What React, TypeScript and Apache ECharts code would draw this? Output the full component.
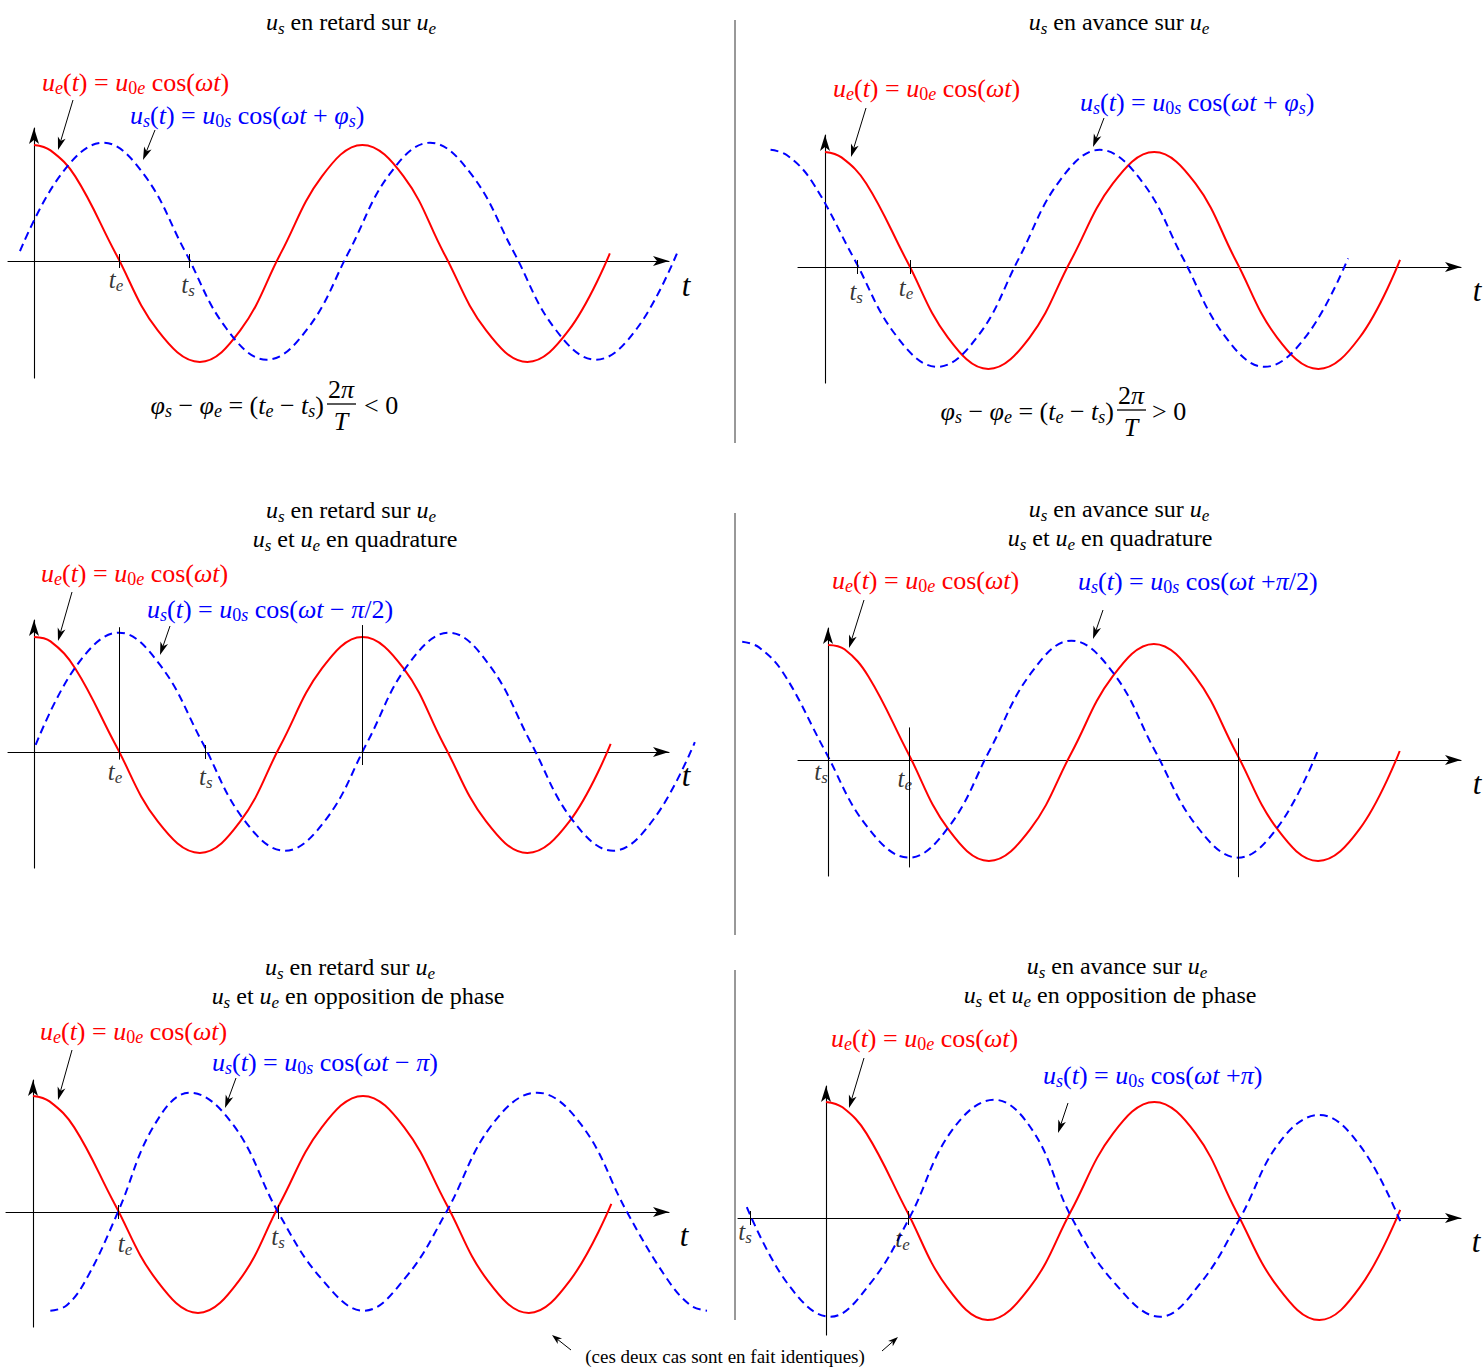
import { useEffect, useRef } from "react";
import * as echarts from "echarts";

// Units: t in quarter periods (T = 4); u in amplitudes (the t axis is u = 0)
// points read about every eighth of a period (plus one near each flat start/end)
const p1RedT = [0, 0.2, 0.5, 0.99, 1.5, 2.01, 2.5, 2.99, 3.49, 3.98, 4.48, 4.97, 5.48, 5.98, 6.48, 6.98];
const p1RedU = [1.07, 1.02, 0.78, 0.07, -0.64, -0.93, -0.64, 0.07, 0.78, 1.07, 0.78, 0.07, -0.64, -0.93, -0.64, 0.07];
const p1BlueT = [-0.17, 0.33, 0.84, 1.33, 1.83, 2.33, 2.82, 3.32, 3.82, 4.31, 4.8, 5.3, 5.81, 6.31, 6.81, 7.31, 7.81];
const p1BlueU = [0.09, 0.8, 1.09, 0.8, 0.09, -0.62, -0.91, -0.62, 0.09, 0.8, 1.09, 0.8, 0.09, -0.62, -0.91, -0.62, 0.1];

const p2RedT = [0, 0.2, 0.5, 0.99, 1.49, 1.98, 2.48, 2.98, 3.49, 3.99, 4.49, 4.98, 5.48, 5.98, 6.48, 6.97];
const p2RedU = [1.06, 1.01, 0.77, 0.06, -0.65, -0.94, -0.65, 0.06, 0.77, 1.06, 0.77, 0.06, -0.65, -0.94, -0.65, 0.065];
const p2BlueT = [-0.66, -0.46, -0.16, 0.35, 0.86, 1.36, 1.86, 2.35, 2.84, 3.33, 3.84, 4.34, 4.84, 5.33, 5.84, 6.34];
const p2BlueU = [1.08, 1.03, 0.79, 0.08, -0.63, -0.92, -0.63, 0.08, 0.79, 1.08, 0.79, 0.08, -0.63, -0.92, -0.63, 0.08];

const p3RedT = [0, 0.2, 0.5, 0.99, 1.5, 2.01, 2.5, 2.99, 3.49, 3.98, 4.48, 4.97, 5.48, 5.98, 6.49, 6.99];
const p3RedU = [1.06, 1.02, 0.77, 0.065, -0.64, -0.93, -0.64, 0.065, 0.77, 1.06, 0.77, 0.065, -0.64, -0.93, -0.64, 0.074];
const p3BlueT = [0.02, 0.52, 1.03, 1.53, 2.04, 2.54, 3.04, 3.54, 4.04, 4.53, 5.03, 5.52, 6.02, 6.52, 7.02, 7.51, 8.01];
const p3BlueU = [0.065, 0.8, 1.1, 0.8, 0.09, -0.62, -0.91, -0.62, 0.09, 0.8, 1.1, 0.8, 0.09, -0.62, -0.91, -0.62, 0.09];

const p4RedT = [0, 0.2, 0.49, 0.97, 1.46, 1.95, 2.45, 2.95, 3.45, 3.95, 4.45, 4.95, 5.45, 5.94, 6.44, 6.93];
const p4RedU = [1.06, 1.02, 0.77, 0.065, -0.64, -0.93, -0.64, 0.065, 0.77, 1.07, 0.77, 0.065, -0.64, -0.93, -0.64, 0.083];
const p4BlueT = [-1.04, -0.84, -0.54, -0.04, 0.47, 0.98, 1.47, 1.96, 2.46, 2.95, 3.46, 3.96, 4.47, 4.97, 5.46, 5.94];
const p4BlueU = [1.09, 1.04, 0.8, 0.09, -0.61, -0.9, -0.61, 0.09, 0.8, 1.1, 0.8, 0.09, -0.61, -0.9, -0.61, 0.09];

const p5RedT = [0, 0.2, 0.5, 0.99, 1.5, 2.0, 2.5, 2.99, 3.5, 4.0, 4.5, 5.01, 5.51, 6.01, 6.51, 7.01];
const p5RedU = [1.07, 1.02, 0.78, 0.074, -0.63, -0.93, -0.63, 0.074, 0.78, 1.07, 0.78, 0.074, -0.63, -0.93, -0.63, 0.074];
const p5BlueT = [0.21, 0.41, 0.66, 1.03, 1.47, 1.9, 2.43, 2.97, 3.49, 4.01, 4.51, 5.01, 5.56, 6.11, 6.65, 7.2, 7.68, 7.97, 8.17];
const p5BlueU = [-0.91, -0.86, -0.6, 0, 0.8, 1.1, 0.8, 0, -0.61, -0.91, -0.61, 0, 0.8, 1.1, 0.8, 0, -0.61, -0.86, -0.91];

const p6RedT = [0, 0.2, 0.49, 0.98, 1.47, 1.96, 2.47, 2.97, 3.48, 3.98, 4.48, 4.97, 5.48, 5.98, 6.47, 6.96];
const p6RedU = [1.07, 1.02, 0.78, 0.065, -0.64, -0.94, -0.64, 0.065, 0.78, 1.07, 0.78, 0.065, -0.64, -0.94, -0.64, 0.074];
const p6BlueT = [-0.96, -0.46, 0.05, 0.53, 1.01, 1.52, 2.04, 2.51, 2.98, 3.51, 4.05, 4.53, 5.02, 5.5, 5.98, 6.48, 6.98];
const p6BlueU = [0.1, -0.61, -0.91, -0.61, 0, 0.8, 1.09, 0.8, 0, -0.61, -0.91, -0.61, 0, 0.7, 0.95, 0.66, -0.065];

// instants marked on the t axis
const p1TickT = [1.03, 1.88];
const p1TickName = ["e", "s"];
const p2TickT = [0.39, 1.03];
const p2TickName = ["s", "e"];
const p3TickT = [1.03, 2.07];
const p3TickName = ["e", "s"];
const p4TickT = [0, 0.98];
const p4TickName = ["s", "e"];
const p5TickT = [1.03, 2.97];
const p5TickName = ["e", "s"];
const p6TickT = [-0.92, 1.0];
const p6TickName = ["s", "e"];

// vertical guide lines: t, top u, bottom u
const p3GuideT = [1.03, 3.98];
const p3GuideTop = [1.15, 1.17];
const p3GuideBottom = [-0.07, -0.12];
const p4GuideT = [0.98, 4.97];
const p4GuideTop = [0.3, 0.2];
const p4GuideBottom = [-0.99, -1.08];

const NONE: number[] = [];
const DATA = [
  { redT: p1RedT, redU: p1RedU, blueT: p1BlueT, blueU: p1BlueU, tickT: p1TickT, tickName: p1TickName, gT: NONE, gTop: NONE, gBot: NONE },
  { redT: p2RedT, redU: p2RedU, blueT: p2BlueT, blueU: p2BlueU, tickT: p2TickT, tickName: p2TickName, gT: NONE, gTop: NONE, gBot: NONE },
  { redT: p3RedT, redU: p3RedU, blueT: p3BlueT, blueU: p3BlueU, tickT: p3TickT, tickName: p3TickName, gT: p3GuideT, gTop: p3GuideTop, gBot: p3GuideBottom },
  { redT: p4RedT, redU: p4RedU, blueT: p4BlueT, blueU: p4BlueU, tickT: p4TickT, tickName: p4TickName, gT: p4GuideT, gTop: p4GuideTop, gBot: p4GuideBottom },
  { redT: p5RedT, redU: p5RedU, blueT: p5BlueT, blueU: p5BlueU, tickT: p5TickT, tickName: p5TickName, gT: NONE, gTop: NONE, gBot: NONE },
  { redT: p6RedT, redU: p6RedU, blueT: p6BlueT, blueU: p6BlueU, tickT: p6TickT, tickName: p6TickName, gT: NONE, gTop: NONE, gBot: NONE },
];

// ---------- layout (pixels) ----------
const PX_T = 82.5; // px per t unit
const PX_U = 108.5; // px per u unit
const AH = 16; // arrow head length
const AW = 7.5; // arrow symbol width parameter
const TICK_PX = 7;
const SMOOTH = 0.4;

const PANELS = [
  { x0: 8, tipX: 677, ox: 34, ay: 261, yb: 378, tipY: 120, L: 0, R: 726 },
  { x0: 798, tipX: 1469, ox: 825, ay: 267, yb: 383, tipY: 127, L: 737, R: 1484 },
  { x0: 8, tipX: 677, ox: 34, ay: 752, yb: 868, tipY: 612, L: 0, R: 726 },
  { x0: 798, tipX: 1469, ox: 828, ay: 760, yb: 876, tipY: 620, L: 737, R: 1484 },
  { x0: 6, tipX: 677, ox: 33, ay: 1212, yb: 1327, tipY: 1072, L: 0, R: 726 },
  { x0: 738, tipX: 1469, ox: 826, ay: 1218, yb: 1335, tipY: 1078, L: 737, R: 1484 },
];

const TICK_LABEL_OFFSETS = [
  [[-3, 18], [-1, 23]],
  [[-1, 24], [-4, 20]],
  [[-4, 19], [1, 24]],
  [[-7, 11], [-4, 18]],
  [[7, 31], [0, 24]],
  [[-5, 13], [-6, 20]],
];

const TITLE_POS = [[351, 22], [1119, 22], [351, 510], [1119, 509], [350, 967], [1117, 966]];
const SUBTITLE_POS = [null, null, [355, 539], [1110, 538], [358, 996], [1110, 995]];
const RED_LABEL_POS = [[42, 82], [833, 88], [41, 573], [832, 580], [40, 1031], [831, 1038]];
const BLUE_LABEL_POS = [[130, 115], [1080, 102], [147, 609], [1078, 581], [212, 1062], [1043, 1075]];
const RED_ARROWS = [[73, 100, 58, 150], [866, 108, 851, 157], [72, 592, 58, 641], [864, 600, 849, 648], [72, 1050, 58, 1100], [864, 1058, 849, 1108]];
const BLUE_ARROWS = [[155, 130, 143, 160], [1104, 118, 1093, 147], [170, 626, 160, 655], [1103, 610, 1093, 639], [236, 1078, 225, 1108], [1068, 1103, 1058, 1133]];
const T_LABEL_POS = [[686, 285], [1477, 290], [686, 775], [1477, 783], [684, 1235], [1476, 1241]];
const SEPARATORS = [[735, 20, 443], [735, 513, 935], [735, 970, 1320]];

// ---------- text ----------
const FONT = "'Liberation Serif', 'Times New Roman', serif";
const NB = "\u00a0";
const MINUS = "\u2212";
const I = (s: string) => `{i|${s}}`;
const R = (s: string) => `{r|${s}}`;
const S = (s: string) => `{s|${s}}`;
const S0 = (s: string) => `{s0|${s}}`;

const retard = I("u") + S("s") + R(`${NB}en retard sur${NB}`) + I("u") + S("e");
const avance = I("u") + S("s") + R(`${NB}en avance sur${NB}`) + I("u") + S("e");
const quadrature = I("u") + S("s") + R(`${NB}et${NB}`) + I("u") + S("e") + R(`${NB}en quadrature`);
const opposition = I("u") + S("s") + R(`${NB}et${NB}`) + I("u") + S("e") + R(`${NB}en opposition de phase`);
const TITLES = [retard, avance, retard, avance, retard, avance];
const SUBTITLES = [null, null, quadrature, quadrature, opposition, opposition];

const redLabel = I("u") + S("e") + R("(") + I("t") + R(`)${NB}=${NB}`) + I("u") + S0("0") + S("e") + R(`${NB}cos(`) + I("ωt") + R(")");
const blueLabel = (phase: string) =>
  I("u") + S("s") + R("(") + I("t") + R(`)${NB}=${NB}`) + I("u") + S0("0") + S("s") + R(`${NB}cos(`) + I("ωt") + phase + R(")");
const BLUE_LABELS = [
  blueLabel(R(`${NB}+${NB}`) + I("φ") + S("s")),
  blueLabel(R(`${NB}+${NB}`) + I("φ") + S("s")),
  blueLabel(R(`${NB}${MINUS}${NB}`) + I("π") + R("/2")),
  blueLabel(R(`${NB}+`) + I("π") + R("/2")),
  blueLabel(R(`${NB}${MINUS}${NB}`) + I("π")),
  blueLabel(R(`${NB}+`) + I("π")),
];
const formulaLeft =
  I("φ") + S("s") + R(`${NB}${MINUS}${NB}`) + I("φ") + S("e") + R(`${NB}=${NB}(`) + I("t") + S("e") + R(`${NB}${MINUS}${NB}`) + I("t") + S("s") + R(")");

const MAIN = 26;
const SUBSZ = 18;
const TITLE_SIZE = 24;
const TITLE_SUB = 17;

function richFor(color: string, size = MAIN, sub = SUBSZ) {
  const lh = Math.round(size * 0.92);
  const sl = Math.round(sub * 0.6);
  const drop = Math.round(size * 0.36);
  const base = { fontFamily: FONT, fill: color, color };
  return {
    r: { ...base, fontSize: size, lineHeight: lh },
    i: { ...base, fontSize: size, lineHeight: lh, fontStyle: "italic" },
    s: { ...base, fontSize: sub, lineHeight: sl, fontStyle: "italic", verticalAlign: "top", padding: [drop, 0, 0, 0] },
    s0: { ...base, fontSize: sub, lineHeight: sl, verticalAlign: "top", padding: [drop, 0, 0, 0] },
  };
}

function txt(x: number, y: number, text: string, color = "#000", align = "left", size = MAIN, sub = SUBSZ) {
  return {
    type: "text",
    x,
    y,
    silent: true,
    style: {
      text,
      fill: color,
      align,
      verticalAlign: "middle",
      textAlign: align,
      textVerticalAlign: "middle",
      fontFamily: FONT,
      fontSize: size,
      rich: richFor(color, size, sub),
    },
  };
}

function arrow(x1: number, y1: number, x2: number, y2: number, len = 13, w = 8) {
  const dx = x2 - x1;
  const dy = y2 - y1;
  const L = Math.hypot(dx, dy);
  const ux = dx / L;
  const uy = dy / L;
  const px = -uy;
  const py = ux;
  const bx = x2 - ux * len;
  const by = y2 - uy * len;
  const nx = x2 - ux * len * 0.72;
  const ny = y2 - uy * len * 0.72;
  return [
    { type: "line", silent: true, shape: { x1, y1, x2: nx, y2: ny }, style: { stroke: "#000", lineWidth: 1 } },
    {
      type: "polygon",
      silent: true,
      shape: { points: [[x2, y2], [bx + (px * w) / 2, by + (py * w) / 2], [nx, ny], [bx - (px * w) / 2, by - (py * w) / 2]] },
      style: { fill: "#000" },
    },
  ];
}

const pts = (t: number[], u: number[]) => t.map((x, k) => [x, u[k]]);

function buildOption() {
  const grid: any[] = [];
  const xAxis: any[] = [];
  const yAxis: any[] = [];
  const series: any[] = [];
  const tickU = TICK_PX / PX_U;
  const hidden = { axisTick: { show: false }, axisLabel: { show: false }, splitLine: { show: false } };

  PANELS.forEach((P, i) => {
    const D = DATA[i];
    // grid 2i: the drawn t and u axes with arrow heads
    const right = P.tipX - AH / 2;
    const top = P.tipY + AH / 2;
    grid.push({ left: P.x0, top, width: right - P.x0, height: P.yb - top, containLabel: false, outerBoundsMode: "none" });
    const axisLine = { show: true, onZero: true, symbol: ["none", "arrow"], symbolSize: [AW, AH], lineStyle: { color: "#000", width: 1.1 } };
    xAxis.push({ type: "value", gridIndex: 2 * i, min: (P.x0 - P.ox) / PX_T, max: (right - P.ox) / PX_T, axisLine, ...hidden });
    yAxis.push({ type: "value", gridIndex: 2 * i, min: -(P.yb - P.ay) / PX_U, max: (P.ay - top) / PX_U, axisLine, ...hidden });

    // grid 2i+1: same scale, wider, for the curves
    const wTop = P.tipY - 20;
    const wBot = P.yb + 20;
    grid.push({ left: P.L, top: wTop, width: P.R - P.L, height: wBot - wTop, containLabel: false, outerBoundsMode: "none" });
    xAxis.push({ type: "value", gridIndex: 2 * i + 1, show: false, min: (P.L - P.ox) / PX_T, max: (P.R - P.ox) / PX_T, axisLine: { show: false }, ...hidden });
    yAxis.push({ type: "value", gridIndex: 2 * i + 1, show: false, min: -(wBot - P.ay) / PX_U, max: (P.ay - wTop) / PX_U, axisLine: { show: false }, ...hidden });

    const ci = 2 * i + 1;
    const marks: any[] = D.tickT.map((t) => [{ coord: [t, tickU] }, { coord: [t, -tickU] }]);
    D.gT.forEach((t, k) => marks.push([{ coord: [t, D.gTop[k]] }, { coord: [t, D.gBot[k]] }]));

    series.push({
      type: "line",
      xAxisIndex: ci,
      yAxisIndex: ci,
      data: pts(D.redT, D.redU),
      smooth: SMOOTH,
      symbol: "none",
      showSymbol: false,
      clip: false,
      silent: true,
      z: 3,
      lineStyle: { color: "#ff0000", width: 2 },
      markLine: {
        silent: true,
        symbol: ["none", "none"],
        label: { show: false },
        lineStyle: { color: "#000", width: 1, type: "solid" },
        data: marks,
      },
    });
    series.push({
      type: "line",
      xAxisIndex: ci,
      yAxisIndex: ci,
      data: pts(D.blueT, D.blueU),
      smooth: SMOOTH,
      symbol: "none",
      showSymbol: false,
      clip: false,
      silent: true,
      z: 4,
      lineStyle: { color: "#0000ff", width: 2, type: [8, 5] },
    });
    series.push({
      type: "scatter",
      xAxisIndex: ci,
      yAxisIndex: ci,
      symbolSize: 1,
      clip: false,
      silent: true,
      z: 5,
      itemStyle: { color: "rgba(0,0,0,0)" },
      data: D.tickT.map((t, k) => ({
        value: [t, 0],
        label: {
          show: true,
          position: "inside",
          offset: TICK_LABEL_OFFSETS[i][k],
          formatter: I("t") + S(D.tickName[k]),
          rich: richFor("#000", 25, 17),
        },
      })),
    });
  });

  const elements: any[] = [];
  SEPARATORS.forEach(([x, y1, y2]) =>
    elements.push({ type: "line", silent: true, shape: { x1: x, y1, x2: x, y2 }, style: { stroke: "#333", lineWidth: 1 } })
  );
  PANELS.forEach((_, i) => {
    elements.push(txt(TITLE_POS[i][0], TITLE_POS[i][1], TITLES[i], "#000", "center", TITLE_SIZE, TITLE_SUB));
    const sp = SUBTITLE_POS[i];
    const st = SUBTITLES[i];
    if (sp && st) elements.push(txt(sp[0], sp[1], st, "#000", "center", TITLE_SIZE, TITLE_SUB));
    elements.push(txt(RED_LABEL_POS[i][0], RED_LABEL_POS[i][1], redLabel, "#ff0000"));
    elements.push(txt(BLUE_LABEL_POS[i][0], BLUE_LABEL_POS[i][1], BLUE_LABELS[i], "#0000ff"));
    elements.push(...arrow(RED_ARROWS[i][0], RED_ARROWS[i][1], RED_ARROWS[i][2], RED_ARROWS[i][3]));
    elements.push(...arrow(BLUE_ARROWS[i][0], BLUE_ARROWS[i][1], BLUE_ARROWS[i][2], BLUE_ARROWS[i][3]));
    elements.push(txt(T_LABEL_POS[i][0], T_LABEL_POS[i][1], I("t"), "#000", "center", 31, 20));
  });

  // phase formulas
  elements.push(txt(324, 405, formulaLeft, "#000", "right"));
  elements.push(txt(341, 389, R("2") + I("π"), "#000", "center"));
  elements.push({ type: "line", silent: true, shape: { x1: 327, y1: 404, x2: 356, y2: 404 }, style: { stroke: "#000", lineWidth: 1.3 } });
  elements.push(txt(341, 421, I("T"), "#000", "center"));
  elements.push(txt(364, 405, R(`<${NB}0`), "#000", "left"));

  elements.push(txt(1114, 411, formulaLeft, "#000", "right"));
  elements.push(txt(1131, 395, R("2") + I("π"), "#000", "center"));
  elements.push({ type: "line", silent: true, shape: { x1: 1117, y1: 410, x2: 1146, y2: 410 }, style: { stroke: "#000", lineWidth: 1.3 } });
  elements.push(txt(1131, 427, I("T"), "#000", "center"));
  elements.push(txt(1152, 411, R(`>${NB}0`), "#000", "left"));

  // footnote
  elements.push(txt(725, 1356, R("(ces deux cas sont en fait identiques)"), "#000", "center", 19, 13));
  elements.push(...arrow(571, 1350, 552, 1335, 10, 7));
  elements.push(...arrow(882, 1351, 898, 1337, 10, 7));

  return {
    animation: false,
    backgroundColor: "#ffffff",
    grid,
    xAxis,
    yAxis,
    series,
    graphic: { elements },
  };
}

export default function App() {
  const ref = useRef<HTMLDivElement>(null);
  useEffect(() => {
    document.body.style.margin = "0";
    const chart = echarts.init(ref.current as HTMLDivElement, null, { renderer: "svg" });
    chart.setOption(buildOption() as any);
    return () => chart.dispose();
  }, []);
  return <div ref={ref} style={{ width: 1484, height: 1369, background: "#fff" }} />;
}
